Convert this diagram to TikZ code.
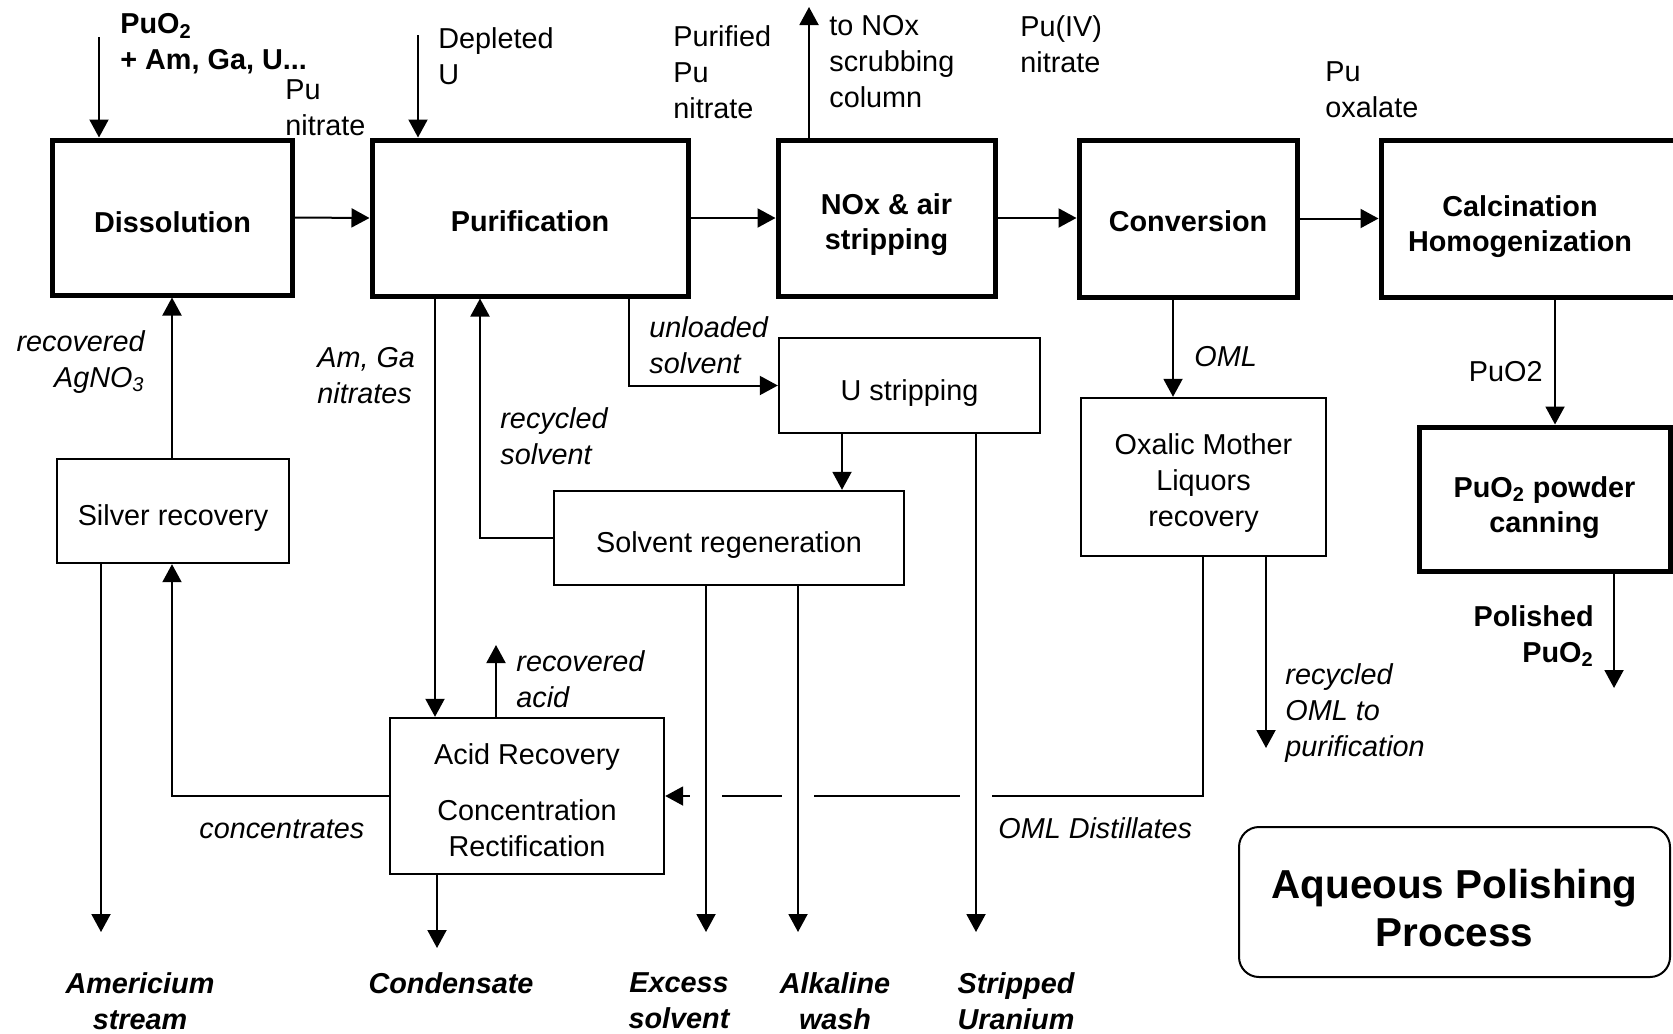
\documentclass[tikz,border=0pt]{standalone}
\usepackage{fontspec}
\setmainfont{Liberation Sans}
\usetikzlibrary{arrows.meta,calc}
\newcommand\fsz{\fontsize{14.4}{18}\selectfont}
\newcommand\dn[1]{\rule{0pt}{#1}}
\begin{document}
\begin{tikzpicture}[x=0.5pt,y=-0.5pt,
  every node/.style={font=\fsz},
  thickbox/.style={draw, line width=2.5pt, inner sep=0pt, align=center, font=\bfseries\fontsize{14.4}{17.5}\selectfont},
  thinbox/.style={draw, line width=1.2pt, inner sep=0pt, align=center, font=\fontsize{14.4}{18}\selectfont},
  arr/.style={-{Triangle[length=9pt,width=9.5pt]}, line width=1pt},
  lab/.style={inner sep=0pt, align=left},
  itl/.style={lab, font=\itshape\fsz},
  bdl/.style={lab, font=\bfseries\fsz},
  bil/.style={inner sep=0pt, align=center, font=\bfseries\itshape\fsz}]
\useasboundingbox (0,0) rectangle (1673,1033);
\clip (0,0) rectangle (1673,1033);

% main boxes
\node[thickbox, minimum width=120pt, minimum height=77.5pt] (diss) at (172.5,217.5) {\dn{14.7pt}Dissolution};
\node[thickbox, minimum width=158pt, minimum height=78pt] (purif) at (530,218) {\dn{14pt}Purification};
\node[thickbox, minimum width=108.5pt, minimum height=78pt] (nox) at (886.5,218) {\dn{16.8pt}NOx \& air\\stripping};
\node[thickbox, minimum width=109pt, minimum height=78.5pt] (conv) at (1188,218.5) {\dn{12.8pt}Conversion};
\node[thickbox, minimum width=209.5pt, minimum height=78.5pt] (calc) at (1590.5,218.5) {};
\node[inner sep=0pt, align=center, font=\bfseries\fontsize{14.4}{17.5}\selectfont] (calctxt) at (1520,222) {\dn{14.7pt}Calcination\\Homogenization};
\node[thickbox, minimum width=125.5pt, minimum height=72pt] (can) at (1544.5,499) {\dn{19pt}PuO\textsubscript{2} powder\\canning};

% secondary boxes
\node[thinbox, minimum width=116pt, minimum height=52pt] (silver) at (173,511) {\dn{17.9pt}Silver recovery};
\node[thinbox, minimum width=130.5pt, minimum height=47.5pt] (ustrip) at (909.5,385.5) {\dn{17.9pt}U stripping};
\node[thinbox, minimum width=175pt, minimum height=47pt] (solv) at (729,538) {\dn{17.9pt}Solvent regeneration};
\node[thinbox, minimum width=122.5pt, minimum height=79pt] (oml) at (1203.5,477) {\dn{16.8pt}Oxalic Mother\\Liquors\\recovery};
\node[thinbox, minimum width=137pt, minimum height=78pt] (acid) at (527,796) {\dn{14.7pt}Acid Recovery\\[10pt]Concentration\\Rectification};
\node[draw, line width=1pt, rounded corners=10pt, inner sep=0pt, align=center,
      minimum width=215.5pt, minimum height=75pt,
      font=\bfseries\fontsize{20.2}{24}\selectfont] (aps) at (1454.5,902) {\dn{20.7pt}Aqueous Polishing\\Process};

% coordinates
\coordinate (feedtop) at (99,37);
\coordinate (deptop) at (418,35);
\coordinate (noxtop) at (809,7);
\coordinate (xcalc) at (1555,0);
\coordinate (polend) at (1614,688);
\coordinate (xoml) at (1173,0);
\coordinate (recend) at (1266,748);
\coordinate (distc) at (1203,796);
\coordinate (unl) at (629,0);
\coordinate (xus) at (842,0);
\coordinate (stripend) at (976,932);
\coordinate (excend) at (706,932);
\coordinate (alkend) at (798,932);
\coordinate (xrs) at (480,0);
\coordinate (xam) at (435,0);
\coordinate (racid) at (496,645);
\coordinate (cond) at (437,948);
\coordinate (xconc) at (172,0);
\coordinate (amend) at (101,932);

% top line flows
\draw[arr] (feedtop) -- (feedtop |- diss.north);
\draw[arr] (deptop) -- (deptop |- purif.north);
\draw[arr] (diss.east) -- (purif.west);
\draw[arr] (purif.east) -- (nox.west);
\draw[arr] (nox.north -| noxtop) -- (noxtop);
\draw[arr] (nox.east) -- (nox.east -| conv.west);
\draw[arr] (conv.east) -- (conv.east -| calc.west);
\draw[arr] (calc.south -| xcalc) -- (can.north -| xcalc);
\draw[arr] (can.south -| polend) -- (polend);

% conversion side
\draw[arr] (conv.south -| xoml) -- (oml.north -| xoml);
\draw[arr] (oml.south -| recend) -- (recend);
\draw[arr] (oml.south -| distc) -- (distc) -- (distc -| acid.east);
\foreach \c in {excend,alkend,stripend}
  \draw[white, line width=3pt] ($(\c |- distc)+(-16,0)$) -- ($(\c |- distc)+(16,0)$);

% purification side
\draw[arr] (purif.south -| unl) |- (ustrip.west);
\draw[arr] (ustrip.south -| xus) -- (solv.north -| xus);
\draw[arr] (ustrip.south -| stripend) -- (stripend);
\draw[arr] (solv.south -| excend) -- (excend);
\draw[arr] (solv.south -| alkend) -- (alkend);
\draw[arr] (solv.west) -| (purif.south -| xrs);
\draw[arr] (purif.south -| xam) -- (acid.north -| xam);
\draw[arr] (acid.north -| racid) -- (racid);
\draw[arr] (acid.south -| cond) -- (cond);
\draw[arr] (acid.west) -| (silver.south -| xconc);
\draw[arr] (silver.north -| xconc) -- (diss.south -| xconc);
\draw[arr] (silver.south -| amend) -- (amend);

% labels
\node[bdl, anchor=west] (lfeed) at (120,44) {PuO\textsubscript{2}\\+ Am, Ga, U...};
\node[lab, anchor=west] (lpun) at (285,108) {Pu\\nitrate};
\node[lab, anchor=west] (ldep) at (438,56.5) {Depleted\\U};
\node[lab, anchor=west] (lppn) at (673,72) {Purified\\Pu\\nitrate};
\node[lab, anchor=west] (lnox) at (829,62) {to NOx\\scrubbing\\column};
\node[lab, anchor=west] (lpu4) at (1020,44.5) {Pu(IV)\\nitrate};
\node[lab, anchor=west] (lpox) at (1325,89.5) {Pu\\oxalate};
\node[itl, anchor=east, align=right] (lag) at (145,362) {recovered\\AgNO\textsubscript{3}};
\node[itl, anchor=west] (lamga) at (317,375.5) {Am, Ga\\nitrates};
\node[itl, anchor=west] (lunl) at (649,345) {unloaded\\solvent};
\node[itl, anchor=west] (lrs) at (500,436.5) {recycled\\solvent};
\node[itl, anchor=west] (loml) at (1194,357) {OML};
\node[lab, anchor=east] (lpuo2) at (1543,372) {PuO2};
\node[itl, anchor=west] (lracid) at (516,679.5) {recovered\\acid};
\node[itl, anchor=west] (lconc) at (199,829) {concentrates};
\node[itl, anchor=west] (ldist) at (998,828) {OML Distillates};
\node[itl, anchor=west] (lroml) at (1285,713) {recycled\\OML to\\purification};
\node[bdl, anchor=east, align=right] (lpol) at (1594,636) {Polished\\PuO\textsubscript{2}};
\node[bil] (lam) at (140,1001) {Americium\\stream};
\node[bil] (lcond) at (451,983) {Condensate};
\node[bil] (lexc) at (679,1001) {Excess\\solvent};
\node[bil] (lalk) at (835,1001) {Alkaline\\wash};
\node[bil] (lstr) at (1016,1001) {Stripped\\Uranium};
\end{tikzpicture}
\end{document}
